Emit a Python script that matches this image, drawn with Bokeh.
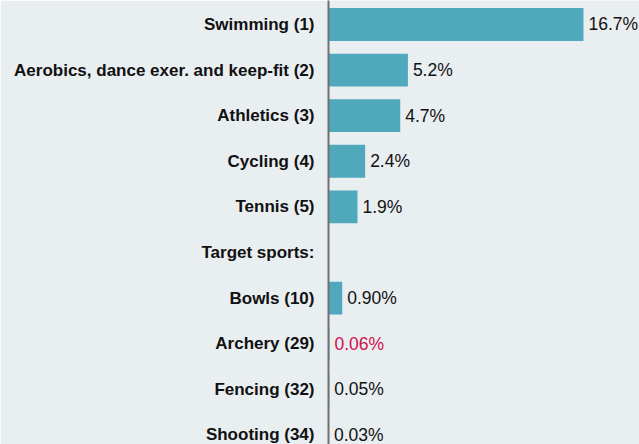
from bokeh.plotting import figure
from bokeh.models import ColumnDataSource, Range1d, FixedTicker
from bokeh.core.properties import value
from bokeh.embed import file_html
from bokeh.resources import INLINE

categories = ["Swimming (1)", "Aerobics, dance exer. and keep-fit (2)", "Athletics (3)",
              "Cycling (4)", "Tennis (5)", "Target sports:", "Bowls (10)",
              "Archery (29)", "Fencing (32)", "Shooting (34)"]
shares = [16.7, 5.2, 4.7, 2.4, 1.9, None, 0.90, 0.06, 0.05, 0.03]
share_labels = ["16.7%", "5.2%", "4.7%", "2.4%", "1.9%", "", "0.90%", "0.06%", "0.05%", "0.03%"]
label_colors = ["#111111", "#111111", "#111111", "#111111", "#111111", "#111111",
                "#111111", "#d0104c", "#111111", "#111111"]

BG = "#e9eef1"
BAR = "#4fa8bb"

idx = [i for i, v in enumerate(shares) if v is not None]
src = ColumnDataSource(dict(
    y=idx,
    v=[shares[i] for i in idx],
    lab=[share_labels[i] for i in idx],
    col=[label_colors[i] for i in idx],
))

p = figure(width=639, height=444, output_backend="svg", toolbar_location=None,
           x_range=Range1d(0, 20.37), y_range=Range1d(9.211, -0.526),
           min_border_left=328, min_border_right=0, min_border_top=0, min_border_bottom=0,
           background_fill_color=BG, border_fill_color=BG, outline_line_color=None)

p.hbar(y="y", left=0, right="v", height=0.72, source=src, fill_color=BAR, line_color=None)
p.text(x="v", y="y", text="lab", source=src, x_offset=5, text_baseline="middle",
       text_align="left", text_color="col", text_font=value("Liberation Sans"),
       text_font_size="17.5px")

p.xaxis.visible = False
p.xgrid.visible = False
p.ygrid.visible = False

ax = p.yaxis[0]
ax.ticker = FixedTicker(ticks=list(range(len(categories))))
ax.major_label_overrides = {i: c for i, c in enumerate(categories)}
ax.major_tick_line_color = None
ax.minor_tick_line_color = None
ax.major_tick_out = 0
ax.major_tick_in = 0
ax.axis_line_color = "#707070"
ax.axis_line_width = 2
ax.major_label_standoff = 14
ax.major_label_text_font = "Liberation Sans"
ax.major_label_text_font_style = "bold"
ax.major_label_text_font_size = "17px"
ax.major_label_text_color = "#111111"

open("out.html", "w").write(file_html(p, INLINE))
